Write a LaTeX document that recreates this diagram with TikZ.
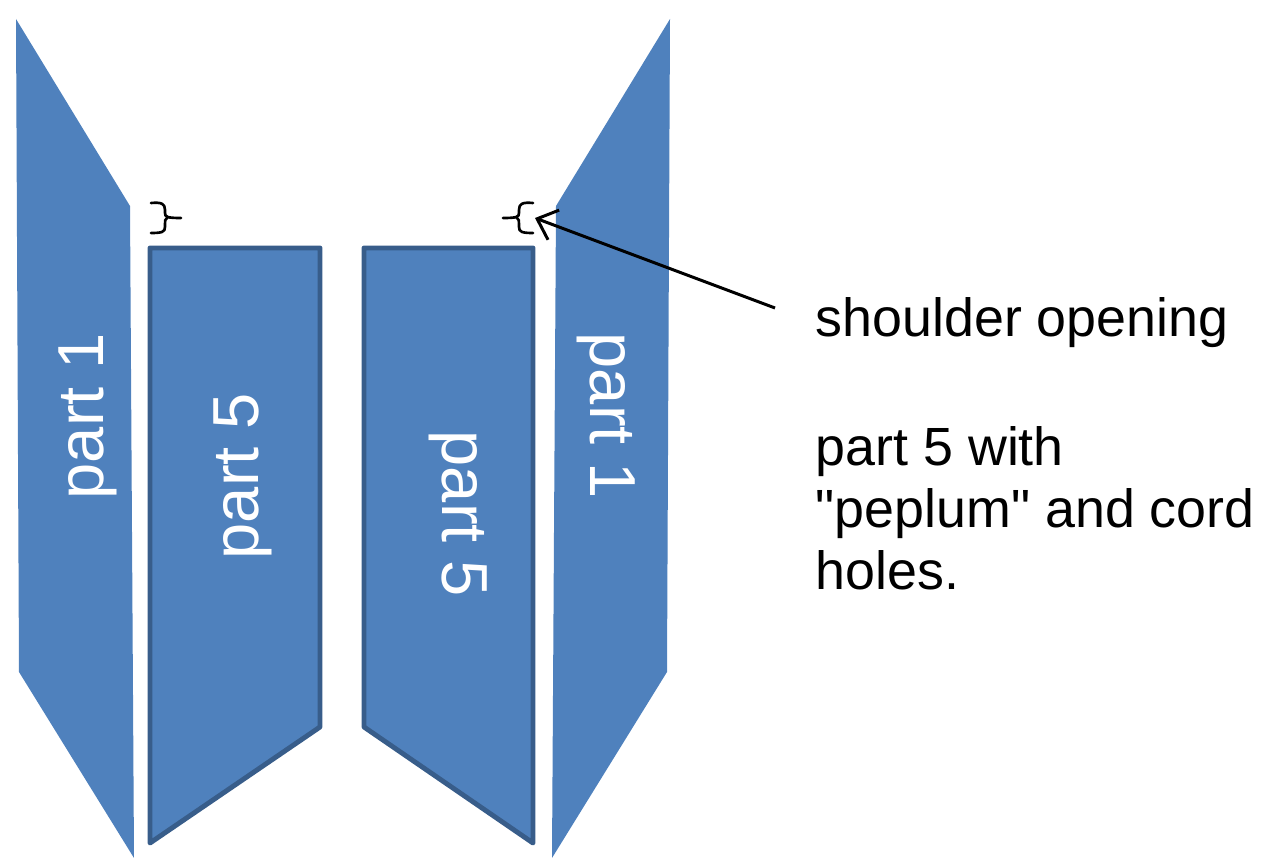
\documentclass[tikz,border=0pt]{standalone}
\usepackage{fontspec}
\setmainfont{Liberation Sans}
\newfontfamily\notefont{Liberation Sans}
\usetikzlibrary{arrows.meta}
\definecolor{partblue}{HTML}{4F81BD}
\definecolor{partedge}{HTML}{385D8A}
\begin{document}
\begin{tikzpicture}[x=0.01cm,y=-0.01cm,
  partlabel/.style={text=white,font=\fontsize{18.5}{22}\selectfont,inner sep=0pt},
  note/.style={anchor=base west,font=\notefont\fontsize{15.3}{18}\selectfont,inner sep=0pt},
  cutbrace/.style={line width=0.75pt,line cap=round}]
  \useasboundingbox (0,0) rectangle (1278,861);
  \fill[partblue] (16,19) -- (130,206) -- (134,858) -- (19,672) -- cycle;
  \fill[partblue] (670,19) -- (556,206) -- (552,858) -- (667,672) -- cycle;
  \filldraw[fill=partblue,draw=partedge,line width=1.4pt,line join=round]
    (150,248) -- (320,248) -- (320,727) -- (150,843) -- cycle;
  \filldraw[fill=partblue,draw=partedge,line width=1.4pt,line join=round]
    (364,248) -- (533,248) -- (533,843) -- (364,727) -- cycle;
  \node[partlabel,rotate=90] (lpart1) at (88,416) {part 1};
  \node[partlabel,rotate=90] (lpart5) at (243,476) {part 5};
  \node[partlabel,rotate=-90] (rpart5) at (458,514) {part 5};
  \node[partlabel,rotate=-90] (rpart1) at (606,416) {part 1};
  \draw[cutbrace] (151,203) .. controls (162,202) and (165,204) .. (165,210) -- (165,213)
    .. controls (165,217) and (167,218) .. (181,218)
    (167,218) .. controls (165,219) and (165,221) .. (165,224) -- (165,227)
    .. controls (165,232) and (162,233) .. (151,233);
  \draw[cutbrace] (533,203) .. controls (522,202) and (519,204) .. (519,210) -- (519,213)
    .. controls (519,217) and (517,218) .. (503,218)
    (517,218) .. controls (519,219) and (519,221) .. (519,224) -- (519,227)
    .. controls (519,232) and (522,233) .. (533,233);
  \coordinate (rbrace) at (535,218);
  \coordinate (callout) at (775,308);
  \node[note] (shoulder) at (815,337) {shoulder opening};
  \node[note] (peplum1) at (815,466) {part 5 with};
  \node[note] (peplum2) at (815,528) {"peplum" and cord};
  \node[note] (peplum3) at (815,590) {holes.};
  \draw[line width=0.85pt,-{Straight Barb[length=5pt,width=9pt]}] (callout) -- (rbrace);
\end{tikzpicture}
\end{document}
